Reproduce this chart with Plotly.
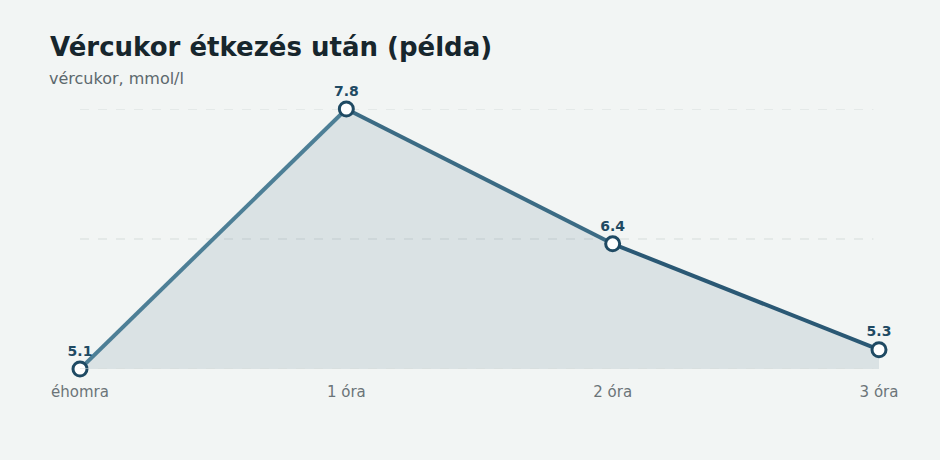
import plotly.graph_objects as go

# adatok
idopontok = ["éhomra", "1 óra", "2 óra", "3 óra"]
vercukor = [5.1, 7.8, 6.4, 5.3]
racs_ertekek = [5.1, 6.45, 7.8]
szakasz_szinek = ["#4d7f96", "#3b6b84", "#2a5874"]

fig = go.Figure()

# kitöltés a görbe alatt
fig.add_trace(go.Scatter(
    x=idopontok, y=vercukor, mode="lines", fill="tozeroy",
    line=dict(width=0), fillcolor="rgba(60,100,120,0.13)",
    hoverinfo="skip", showlegend=False))

# vonal szakaszonként, sötétedő színnel
for i in range(len(vercukor) - 1):
    fig.add_trace(go.Scatter(
        x=idopontok[i:i + 2], y=vercukor[i:i + 2], mode="lines",
        line=dict(color=szakasz_szinek[i], width=4),
        showlegend=False, hoverinfo="skip"))

# pontok és feliratok
fig.add_trace(go.Scatter(
    x=idopontok, y=vercukor, mode="markers+text",
    text=[f"{v:.1f}" for v in vercukor], textposition="top center",
    textfont=dict(family="DejaVu Sans", size=14, color="#1f4a63", weight="bold"),
    marker=dict(size=14, color="white", line=dict(color="#1f4a63", width=3)),
    cliponaxis=False, showlegend=False))

# szaggatott rácsvonalak (az alsó a kitöltés fölött látszik)
for v in racs_ertekek:
    fig.add_shape(type="line", xref="paper", yref="y", x0=0, x1=0.993, y0=v, y1=v,
                  line=dict(color="#d6dddb", width=1, dash="dash"),
                  layer="above" if v == min(racs_ertekek) else "below")

fig.update_layout(
    width=940, height=460,
    margin=dict(l=80, r=61, t=109, b=91),
    paper_bgcolor="#f2f5f4", plot_bgcolor="rgba(0,0,0,0)",
    font=dict(family="DejaVu Sans", color="#6b7478"),
    title=dict(text="<b>Vércukor étkezés után (példa)</b>", x=50 / 940, xanchor="left",
               y=1 - 47 / 460, yanchor="middle",
               font=dict(size=26, color="#17262d")),
    annotations=[dict(text="vércukor, mmol/l", xref="paper", yref="paper",
                      x=-33 / 799, y=1 + 31 / 260, xanchor="left", yanchor="middle",
                      showarrow=False, font=dict(size=16, color="#5c686d"))],
)
fig.update_xaxes(type="category", range=[0, 3], showgrid=False, zeroline=False,
                 showline=False, ticks="", ticklabelstandoff=12,
                 tickfont=dict(size=15, color="#6b7478"))
fig.update_yaxes(range=[5.1, 7.8], showticklabels=False, showgrid=False,
                 zeroline=False, showline=False)

fig.write_html("out.html", config={"displayModeBar": False},
               post_script="document.body.style.margin='0';")
